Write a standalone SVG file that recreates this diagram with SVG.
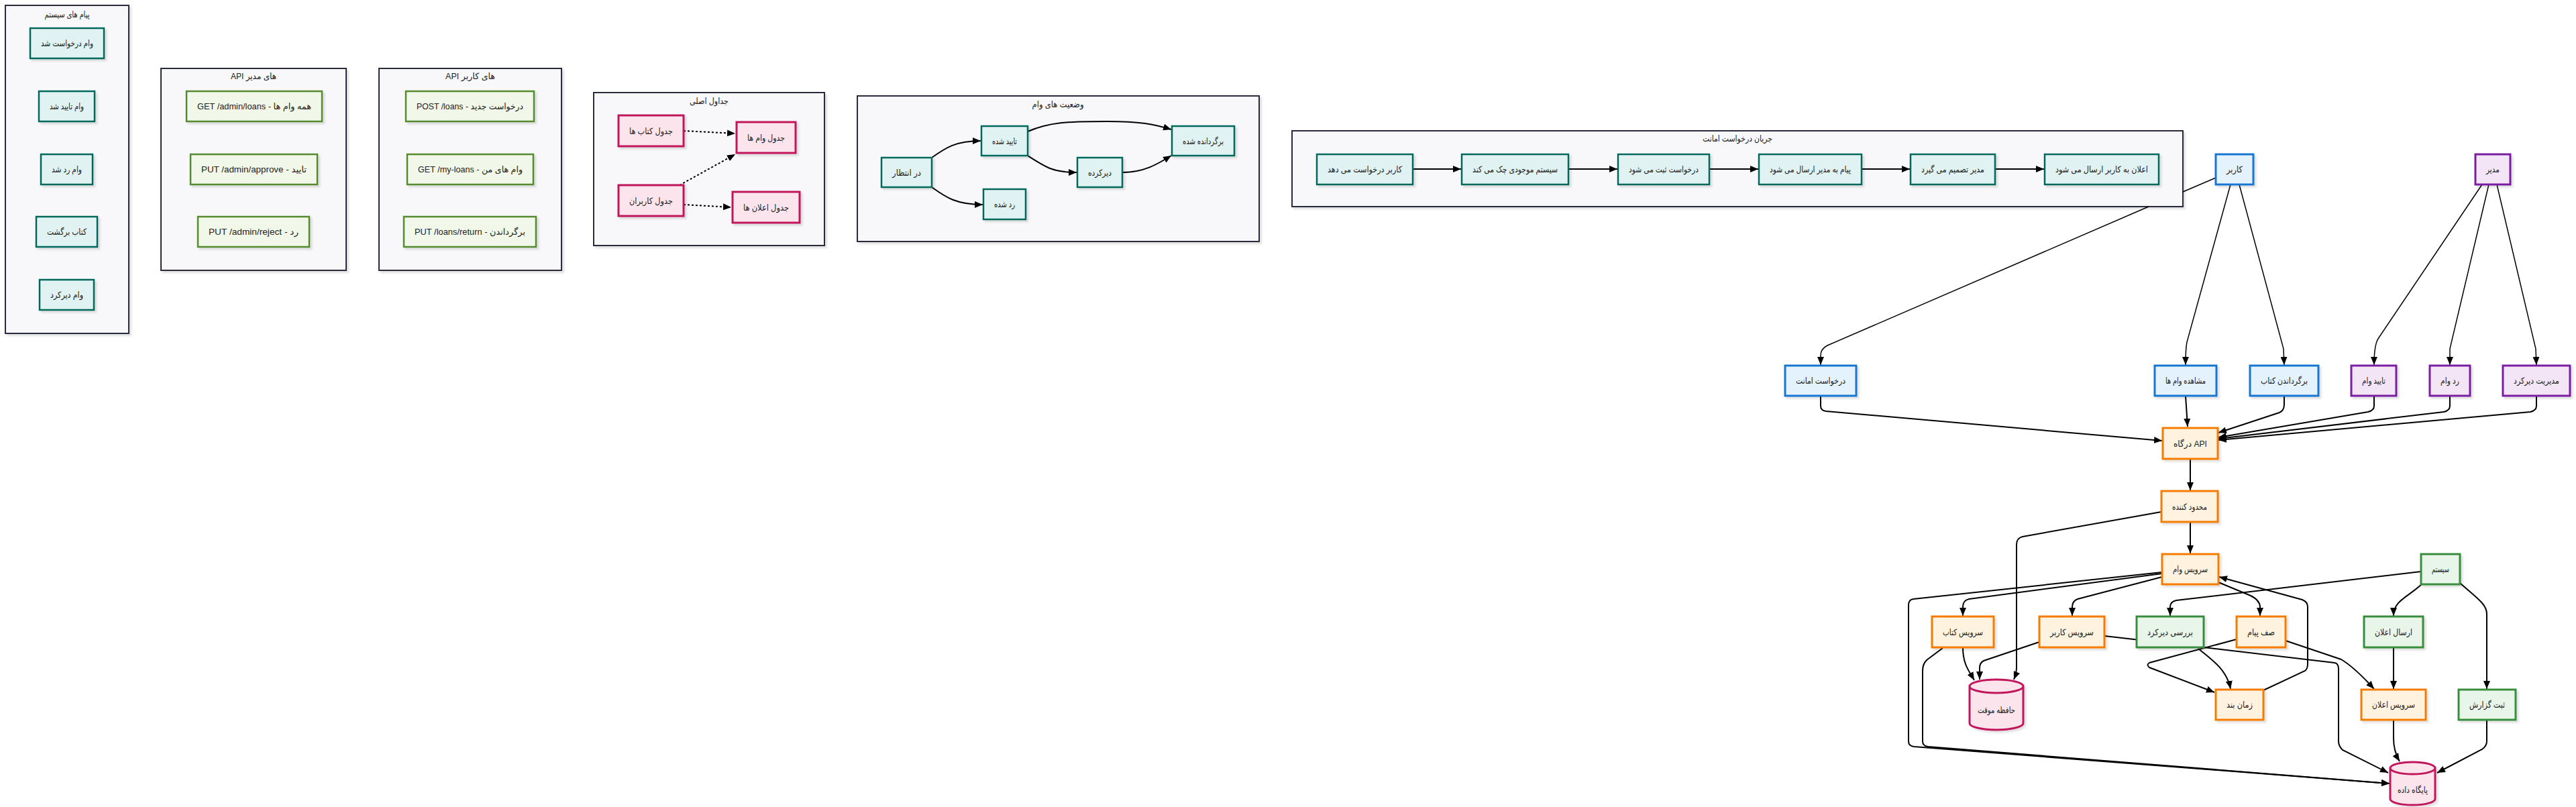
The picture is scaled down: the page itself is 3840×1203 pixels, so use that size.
<svg xmlns="http://www.w3.org/2000/svg" width="3840" height="1203" viewBox="0 0 3840 1203">
<defs>
<filter id="sh" x="-10%" y="-10%" width="130%" height="140%">
<feDropShadow dx="3" dy="3" stdDeviation="1.5" flood-color="#000" flood-opacity="0.12"/>
</filter>
<marker id="arr" markerUnits="userSpaceOnUse" markerWidth="12" markerHeight="10" refX="12" refY="5" orient="auto">
<path d="M0,0 L12,5 L0,10 z" fill="#000"/>
</marker>
<style>
.t{font-family:"Liberation Sans","DejaVu Sans",sans-serif;font-size:13px;text-anchor:middle;dominant-baseline:central;fill:#222}
.ct{font-family:"Liberation Sans","DejaVu Sans",sans-serif;font-size:13px;text-anchor:middle;dominant-baseline:central;fill:#222}
.cl{fill:#f8f8fa;stroke:#2b2b3c;stroke-width:2;filter:url(#sh)}
.teal{fill:#e0f2f1;stroke:#00695c;stroke-width:2.5;filter:url(#sh)}
.api{fill:#f1f8e9;stroke:#558b2f;stroke-width:2.5;filter:url(#sh)}
.tbl{fill:#fce4ec;stroke:#c2185b;stroke-width:3;filter:url(#sh)}
.usr{fill:#e3f2fd;stroke:#1976d2;stroke-width:3;filter:url(#sh)}
.adm{fill:#f3e5f5;stroke:#7b1fa2;stroke-width:3;filter:url(#sh)}
.svc{fill:#fff3e0;stroke:#f57c00;stroke-width:3;filter:url(#sh)}
.sys{fill:#e8f5e9;stroke:#388e3c;stroke-width:3;filter:url(#sh)}
.db{fill:#fce4ec;stroke:#c2185b;stroke-width:3;filter:url(#sh)}
.e{fill:none;stroke:#000;stroke-width:2;marker-end:url(#arr)}
.e1{fill:none;stroke:#000;stroke-width:1.5;marker-end:url(#arr)}
.ed{fill:none;stroke:#000;stroke-width:2;stroke-dasharray:3,3;marker-end:url(#arr)}
</style>
</defs>
<rect width="3840" height="1203" fill="#fff"/>

<g id="clusters">
<g id="c-msgs"><rect class="cl" x="8" y="8" width="184" height="489"/><text class="ct" x="100" y="21" textLength="67" lengthAdjust="spacingAndGlyphs">پیام های سیستم</text></g>
<g id="c-adminapi"><rect class="cl" x="240" y="102" width="276" height="301"/><text class="ct" x="378" y="113" textLength="68" lengthAdjust="spacingAndGlyphs">API های مدیر</text></g>
<g id="c-userapi"><rect class="cl" x="565" y="102" width="272" height="301"/><text class="ct" x="701" y="113" textLength="74" lengthAdjust="spacingAndGlyphs">API های کاربر</text></g>
<g id="c-tables"><rect class="cl" x="885" y="138" width="344" height="228"/><text class="ct" x="1057" y="150" textLength="58" lengthAdjust="spacingAndGlyphs">جداول اصلی</text></g>
<g id="c-states"><rect class="cl" x="1278" y="143" width="599" height="217"/><text class="ct" x="1577" y="155" textLength="77" lengthAdjust="spacingAndGlyphs">وضعیت های وام</text></g>
<g id="c-flow"><rect class="cl" x="1926" y="195" width="1328" height="113"/><text class="ct" x="2590" y="206" textLength="104" lengthAdjust="spacingAndGlyphs">جریان درخواست امانت</text></g>
</g>

<g id="connectors">
<path class="ed" d="M1019,195 L1096,199"/>
<path class="ed" d="M1013,276 L1096,230"/>
<path class="ed" d="M1019,305 L1090,309"/>
<path class="e" d="M1389,235 C1410,220 1425,210 1462,210"/>
<path class="e" d="M1389,279 C1410,294 1425,305 1465,305"/>
<path class="e" d="M1532,196 C1565,182 1590,181 1650,181 C1700,181 1720,185 1746,193"/>
<path class="e" d="M1532,232 C1560,250 1570,257 1605,257"/>
<path class="e" d="M1673,257 C1705,257 1725,245 1746,232"/>
<path class="e" d="M2106,252 L2178,252"/>
<path class="e" d="M2338,252 L2411,252"/>
<path class="e" d="M2548,252 L2621,252"/>
<path class="e" d="M2775,252 L2847,252"/>
<path class="e" d="M2974,252 L3047,252"/>
<path class="e1" d="M3303,265 L3254,286 M3203,308 L2724,515 Q2714,520 2714,530 L2714,544"/>
<path class="e1" d="M3325,275 L3260,510 Q3258,520 3258,544"/>
<path class="e1" d="M3338,275 L3404,520 L3405,544"/>
<path class="e1" d="M3700,275 L3545,505 Q3539,515 3539,544"/>
<path class="e1" d="M3710,275 L3652,520 L3652,544"/>
<path class="e1" d="M3722,275 L3780,520 L3781,544"/>
<path class="e" d="M2714,590 L2714,605 Q2714,612 2722,613 L3223,657"/>
<path class="e" d="M3258,590 L3261,636"/>
<path class="e" d="M3405,590 L3405,603 Q3405,612 3398,615 L3307,645"/>
<path class="e" d="M3539,590 L3539,605 Q3539,612 3530,614 L3307,652"/>
<path class="e" d="M3652,590 L3652,605 Q3652,612 3643,614 L3307,654"/>
<path class="e" d="M3781,590 L3781,605 Q3781,612 3772,614 L3307,656"/>
<path class="e" d="M3265,684 L3265,731"/>
<path class="e" d="M3265,778 L3265,825"/>
<path class="e" d="M3222,763 L3015,800 Q3006,802 3006,812 L3006,995 Q3006,1003 3002,1013"/>
<path class="e" d="M3223,855 L2935,893 Q2926,895 2926,905 L2926,918"/>
<path class="e" d="M3223,853 L2852,893 Q2845,894 2845,902 L2845,1105 Q2845,1112 2853,1113 L3562,1168"/>
<path class="e" d="M3223,860 L3097,893 Q3089,896 3089,905 L3089,918"/>
<path class="e" d="M3307,868 L3355,888 Q3369,895 3369,905 L3369,918"/>
<path class="e" d="M3374,1029 L3436,1000 Q3440,997 3440,990 L3440,905 Q3440,897 3432,894 L3308,860"/>
<path class="e" d="M3609,852 L3244,895 Q3235,897 3235,905 L3235,918"/>
<path class="e" d="M3611,870 C3590,890 3568,895 3568,918"/>
<path class="e" d="M3667,869 C3690,890 3707,900 3707,915 L3707,1027"/>
<path class="e" d="M3568,965 L3568,1027"/>
<path class="e" d="M3568,1073 L3568,1100 Q3568,1120 3577,1135"/>
<path class="e" d="M3707,1073 L3707,1105 Q3707,1112 3700,1117 L3633,1152"/>
<path class="e" d="M3407,955 L3490,983 Q3510,995 3539,1027"/>
<path class="e" d="M3334,953 L3204,988 Q3199,991 3204,995 L3301,1032"/>
<path class="e" d="M3277,967 C3300,985 3320,1000 3325,1027"/>
<path class="e" d="M3137,948 L3285,965 L3480,988 Q3486,989 3486,997 L3486,1105 Q3486,1112 3492,1118 L3560,1152"/>
<path class="e" d="M3040,957 L2957,985 Q2951,988 2951,996 L2951,1013"/>
<path class="e" d="M2926,965 C2926,990 2935,1000 2943,1014"/>
<path class="e" d="M2896,966 L2872,984 Q2866,990 2866,1000 L2866,1105 Q2866,1112 2874,1113 L3562,1168"/>
</g>

<g id="m1"><rect class="teal" x="45" y="42" width="110" height="45"/><text class="t" x="100" y="64.5" textLength="78" lengthAdjust="spacingAndGlyphs">وام درخواست شد</text></g>
<g id="m2"><rect class="teal" x="58" y="136" width="83" height="45"/><text class="t" x="99.5" y="158.5" textLength="51" lengthAdjust="spacingAndGlyphs">وام تایید شد</text></g>
<g id="m3"><rect class="teal" x="61" y="230" width="77" height="45"/><text class="t" x="99.5" y="252.5" textLength="45" lengthAdjust="spacingAndGlyphs">وام رد شد</text></g>
<g id="m4"><rect class="teal" x="54" y="323" width="91" height="45"/><text class="t" x="99.5" y="345.5" textLength="59" lengthAdjust="spacingAndGlyphs">کتاب برگشت</text></g>
<g id="m5"><rect class="teal" x="59" y="417" width="81" height="45"/><text class="t" x="99.5" y="439.5" textLength="49" lengthAdjust="spacingAndGlyphs">وام دیرکرد</text></g>

<g id="a1"><rect class="api" x="278" y="136" width="202" height="45"/><text class="t" x="379" y="158.5" textLength="170" lengthAdjust="spacingAndGlyphs">GET /admin/loans - همه وام ها</text></g>
<g id="a2"><rect class="api" x="284" y="230" width="189" height="45"/><text class="t" x="378.5" y="252.5" textLength="157" lengthAdjust="spacingAndGlyphs">PUT /admin/approve - تایید</text></g>
<g id="a3"><rect class="api" x="295" y="323" width="166" height="45"/><text class="t" x="378" y="345.5" textLength="134" lengthAdjust="spacingAndGlyphs">PUT /admin/reject - رد</text></g>

<g id="u1"><rect class="api" x="605" y="136" width="191" height="45"/><text class="t" x="700.5" y="158.5" textLength="159" lengthAdjust="spacingAndGlyphs">POST /loans - درخواست جدید</text></g>
<g id="u2"><rect class="api" x="607" y="230" width="188" height="45"/><text class="t" x="701" y="252.5" textLength="156" lengthAdjust="spacingAndGlyphs">GET /my-loans - وام های من</text></g>
<g id="u3"><rect class="api" x="602" y="323" width="197" height="45"/><text class="t" x="700.5" y="345.5" textLength="165" lengthAdjust="spacingAndGlyphs">PUT /loans/return - برگرداندن</text></g>

<g id="t1"><rect class="tbl" x="922" y="172" width="97" height="46"/><text class="t" x="970.5" y="195" textLength="65" lengthAdjust="spacingAndGlyphs">جدول کتاب ها</text></g>
<g id="t2"><rect class="tbl" x="1098" y="182" width="88" height="46"/><text class="t" x="1142" y="205" textLength="56" lengthAdjust="spacingAndGlyphs">جدول وام ها</text></g>
<g id="t3"><rect class="tbl" x="922" y="276" width="97" height="46"/><text class="t" x="970.5" y="299" textLength="65" lengthAdjust="spacingAndGlyphs">جدول کاربران</text></g>
<g id="t4"><rect class="tbl" x="1092" y="286" width="100" height="46"/><text class="t" x="1142" y="309" textLength="68" lengthAdjust="spacingAndGlyphs">جدول اعلان ها</text></g>

<g id="s1"><rect class="teal" x="1314" y="235" width="75" height="44"/><text class="t" x="1351.5" y="257" textLength="43" lengthAdjust="spacingAndGlyphs">در انتظار</text></g>
<g id="s2"><rect class="teal" x="1463" y="188" width="69" height="44"/><text class="t" x="1497.5" y="210" textLength="37" lengthAdjust="spacingAndGlyphs">تایید شده</text></g>
<g id="s3"><rect class="teal" x="1466" y="282" width="63" height="45"/><text class="t" x="1497.5" y="304.5" textLength="31" lengthAdjust="spacingAndGlyphs">رد شده</text></g>
<g id="s4"><rect class="teal" x="1606" y="235" width="67" height="44"/><text class="t" x="1639.5" y="257" textLength="35" lengthAdjust="spacingAndGlyphs">دیرکرده</text></g>
<g id="s5"><rect class="teal" x="1747" y="188" width="93" height="44"/><text class="t" x="1793.5" y="210" textLength="61" lengthAdjust="spacingAndGlyphs">برگردانده شده</text></g>

<g id="f1"><rect class="teal" x="1963" y="230" width="143" height="45"/><text class="t" x="2034.5" y="252.5" textLength="111" lengthAdjust="spacingAndGlyphs">کاربر درخواست می دهد</text></g>
<g id="f2"><rect class="teal" x="2179" y="230" width="159" height="45"/><text class="t" x="2258.5" y="252.5" textLength="127" lengthAdjust="spacingAndGlyphs">سیستم موجودی چک می کند</text></g>
<g id="f3"><rect class="teal" x="2412" y="230" width="136" height="45"/><text class="t" x="2480" y="252.5" textLength="104" lengthAdjust="spacingAndGlyphs">درخواست ثبت می شود</text></g>
<g id="f4"><rect class="teal" x="2622" y="230" width="153" height="45"/><text class="t" x="2698.5" y="252.5" textLength="121" lengthAdjust="spacingAndGlyphs">پیام به مدیر ارسال می شود</text></g>
<g id="f5"><rect class="teal" x="2848" y="230" width="126" height="45"/><text class="t" x="2911" y="252.5" textLength="94" lengthAdjust="spacingAndGlyphs">مدیر تصمیم می گیرد</text></g>
<g id="f6"><rect class="teal" x="3048" y="230" width="170" height="45"/><text class="t" x="3133" y="252.5" textLength="138" lengthAdjust="spacingAndGlyphs">اعلان به کاربر ارسال می شود</text></g>

<g id="user"><rect class="usr" x="3303" y="230" width="56" height="45"/><text class="t" x="3331" y="252.5" textLength="24" lengthAdjust="spacingAndGlyphs">کاربر</text></g>
<g id="admin"><rect class="adm" x="3690" y="230" width="52" height="45"/><text class="t" x="3716" y="252.5" textLength="20" lengthAdjust="spacingAndGlyphs">مدیر</text></g>
<g id="req"><rect class="usr" x="2661" y="545" width="106" height="45"/><text class="t" x="2714" y="567.5" textLength="74" lengthAdjust="spacingAndGlyphs">درخواست امانت</text></g>
<g id="view"><rect class="usr" x="3212" y="545" width="92" height="45"/><text class="t" x="3258" y="567.5" textLength="60" lengthAdjust="spacingAndGlyphs">مشاهده وام ها</text></g>
<g id="ret"><rect class="usr" x="3354" y="545" width="102" height="45"/><text class="t" x="3405" y="567.5" textLength="70" lengthAdjust="spacingAndGlyphs">برگرداندن کتاب</text></g>
<g id="appr"><rect class="adm" x="3505" y="545" width="67" height="45"/><text class="t" x="3538.5" y="567.5" textLength="35" lengthAdjust="spacingAndGlyphs">تایید وام</text></g>
<g id="rej"><rect class="adm" x="3622" y="545" width="60" height="45"/><text class="t" x="3652" y="567.5" textLength="28" lengthAdjust="spacingAndGlyphs">رد وام</text></g>
<g id="late"><rect class="adm" x="3731" y="545" width="100" height="45"/><text class="t" x="3781" y="567.5" textLength="68" lengthAdjust="spacingAndGlyphs">مدیریت دیرکرد</text></g>

<g id="gw"><rect class="svc" x="3224" y="638" width="82" height="46"/><text class="t" x="3265" y="661" textLength="50" lengthAdjust="spacingAndGlyphs">درگاه API</text></g>
<g id="lim"><rect class="svc" x="3222" y="732" width="84" height="46"/><text class="t" x="3264" y="755" textLength="52" lengthAdjust="spacingAndGlyphs">محدود کننده</text></g>
<g id="loan"><rect class="svc" x="3223" y="826" width="84" height="45"/><text class="t" x="3265" y="848.5" textLength="52" lengthAdjust="spacingAndGlyphs">سرویس وام</text></g>
<g id="sys"><rect class="sys" x="3609" y="826" width="58" height="45"/><text class="t" x="3638" y="848.5" textLength="26" lengthAdjust="spacingAndGlyphs">سیستم</text></g>
<g id="bookS"><rect class="svc" x="2880" y="919" width="92" height="46"/><text class="t" x="2926" y="942" textLength="60" lengthAdjust="spacingAndGlyphs">سرویس کتاب</text></g>
<g id="userS"><rect class="svc" x="3040" y="919" width="97" height="46"/><text class="t" x="3088.5" y="942" textLength="65" lengthAdjust="spacingAndGlyphs">سرویس کاربر</text></g>
<g id="lateChk"><rect class="sys" x="3185" y="919" width="100" height="46"/><text class="t" x="3235" y="942" textLength="68" lengthAdjust="spacingAndGlyphs">بررسی دیرکرد</text></g>
<g id="queue"><rect class="svc" x="3334" y="919" width="73" height="46"/><text class="t" x="3370.5" y="942" textLength="41" lengthAdjust="spacingAndGlyphs">صف پیام</text></g>
<g id="sendN"><rect class="sys" x="3524" y="919" width="88" height="46"/><text class="t" x="3568" y="942" textLength="56" lengthAdjust="spacingAndGlyphs">ارسال اعلان</text></g>
<g id="cache"><path class="db" d="M2936,1023 a40,10 0 0,0 80,0 a40,10 0 0,0 -80,0 l0,55 a40,10 0 0,0 80,0 l0,-55"/><text class="t" x="2976" y="1058" textLength="56" lengthAdjust="spacingAndGlyphs">حافظه موقت</text></g>
<g id="sched"><rect class="svc" x="3303" y="1028" width="71" height="45"/><text class="t" x="3338.5" y="1050.5" textLength="39" lengthAdjust="spacingAndGlyphs">زمان بند</text></g>
<g id="notifS"><rect class="svc" x="3520" y="1028" width="96" height="45"/><text class="t" x="3568" y="1050.5" textLength="64" lengthAdjust="spacingAndGlyphs">سرویس اعلان</text></g>
<g id="log"><rect class="sys" x="3665" y="1028" width="85" height="45"/><text class="t" x="3707.5" y="1050.5" textLength="53" lengthAdjust="spacingAndGlyphs">ثبت گزارش</text></g>
<g id="db"><path class="db" d="M3563,1145 a33.5,9 0 0,0 67,0 a33.5,9 0 0,0 -67,0 l0,46 a33.5,9 0 0,0 67,0 l0,-46"/><text class="t" x="3596.5" y="1177" textLength="45" lengthAdjust="spacingAndGlyphs">پایگاه داده</text></g>
</svg>
